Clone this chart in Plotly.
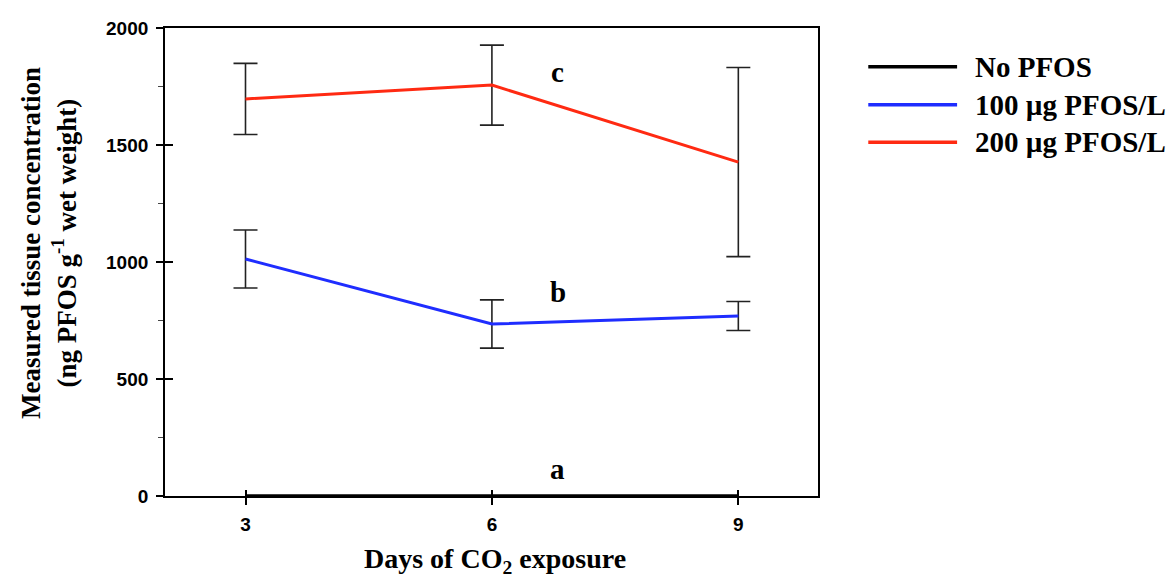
import plotly.graph_objects as go

# Days of CO2 exposure
days = [3, 6, 9]

# Series names
series_names = ["No PFOS", "100 µg PFOS/L", "200 µg PFOS/L"]
series_colors = ["#000000", "#1f2dff", "#ff2a12"]

# Measured tissue concentration (ng PFOS / g wet weight), means and SD
no_pfos = [0, 0, 0]
pfos_100 = [1013, 735, 769]
pfos_100_err = [124, 103, 62]
pfos_200 = [1697, 1756, 1427]
pfos_200_err = [152, 171, 404]

# Significance letters and their placement
sig_letters = ["a", "b", "c"]
sig_x = [6.8, 6.8, 6.8]
sig_y = [115, 870, 1810]

font_serif = "Liberation Serif, Times New Roman, serif"
font_sans = "Liberation Sans, Arial, sans-serif"

fig = go.Figure()

fig.add_trace(go.Scatter(
    x=days, y=pfos_200, mode="lines", name=series_names[2],
    line=dict(color=series_colors[2], width=3),
    error_y=dict(type="data", array=pfos_200_err, color="#222222", thickness=1.6, width=12),
))
fig.add_trace(go.Scatter(
    x=days, y=pfos_100, mode="lines", name=series_names[1],
    line=dict(color=series_colors[1], width=3),
    error_y=dict(type="data", array=pfos_100_err, color="#222222", thickness=1.6, width=12),
))
fig.add_trace(go.Scatter(
    x=days, y=no_pfos, mode="lines", name=series_names[0],
    line=dict(color=series_colors[0], width=3.5),
    cliponaxis=False,
))

# Significance letters
for letter, lx, ly in zip(sig_letters, sig_x, sig_y):
    fig.add_annotation(x=lx, y=ly, text=letter, showarrow=False,
                       font=dict(family=font_serif, size=29, color="black", weight="bold"))

# Legend drawn as line samples with labels
legend_y = [0.917, 0.836, 0.756]
for name, color, ly in zip(series_names, series_colors, legend_y):
    fig.add_shape(type="line", xref="paper", yref="paper",
                  x0=1.077, x1=1.213, y0=ly, y1=ly,
                  line=dict(color=color, width=3.5))
    fig.add_annotation(xref="paper", yref="paper", x=1.238, y=ly, text=name,
                       showarrow=False, xanchor="left", yanchor="middle",
                       font=dict(family=font_serif, size=29, color="black", weight="bold"))

# Axis titles as annotations
fig.add_annotation(xref="paper", yref="paper", x=-0.178, y=0.54, xanchor="center", yanchor="middle",
                   text="Measured tissue concentration<br>(ng PFOS g<sup>-1</sup> wet weight)",
                   textangle=-90, showarrow=False,
                   font=dict(family=font_serif, size=27, color="black", weight="bold"))
fig.add_annotation(xref="paper", yref="paper", x=0.506, y=-0.137, xanchor="center", yanchor="middle",
                   text="Days of CO<sub>2</sub> exposure", showarrow=False,
                   font=dict(family=font_serif, size=28, color="black", weight="bold"))

axis_common = dict(
    showline=True, linecolor="black", linewidth=1.8, mirror=True,
    showgrid=False, zeroline=False, automargin=False,
    ticks="outside", tickcolor="black", tickwidth=1.6, ticklen=7,
    tickfont=dict(family=font_sans, size=19, color="black", weight="bold"),
)

fig.update_layout(
    width=1172, height=578,
    margin=dict(l=165, r=354, t=28, b=82),
    paper_bgcolor="white", plot_bgcolor="white",
    xaxis=dict(
        range=[2.02, 9.97], tickvals=days, ticktext=[str(d) for d in days],
        ticklabelstandoff=3,
        **axis_common,
    ),
    yaxis=dict(
        range=[0, 2000], tickvals=[0, 500, 1000, 1500, 2000],
        ticklabelstandoff=4,
        minor=dict(dtick=250, tick0=0, ticks="outside", ticklen=5, tickcolor="#444444", tickwidth=1),
        **axis_common,
    ),
    xaxis2=dict(overlaying="x", matches="x", range=[2.02, 9.97], tickvals=days,
                showticklabels=False, ticks="inside", ticklen=6, tickwidth=1.6,
                tickcolor="black", showgrid=False, zeroline=False, showline=False),
    yaxis2=dict(overlaying="y", matches="y", range=[0, 2000], tickvals=[0, 500, 1000, 1500, 2000],
                showticklabels=False, ticks="inside", ticklen=8, tickwidth=1.6,
                tickcolor="black", showgrid=False, zeroline=False, showline=False),
    showlegend=False,
)

# Invisible trace to carry the inside tick marks
fig.add_trace(go.Scatter(x=[days[0]], y=[0], xaxis="x2", yaxis="y2", mode="markers",
                         marker=dict(opacity=0), hoverinfo="skip", showlegend=False))

fig.write_html("out.html")
